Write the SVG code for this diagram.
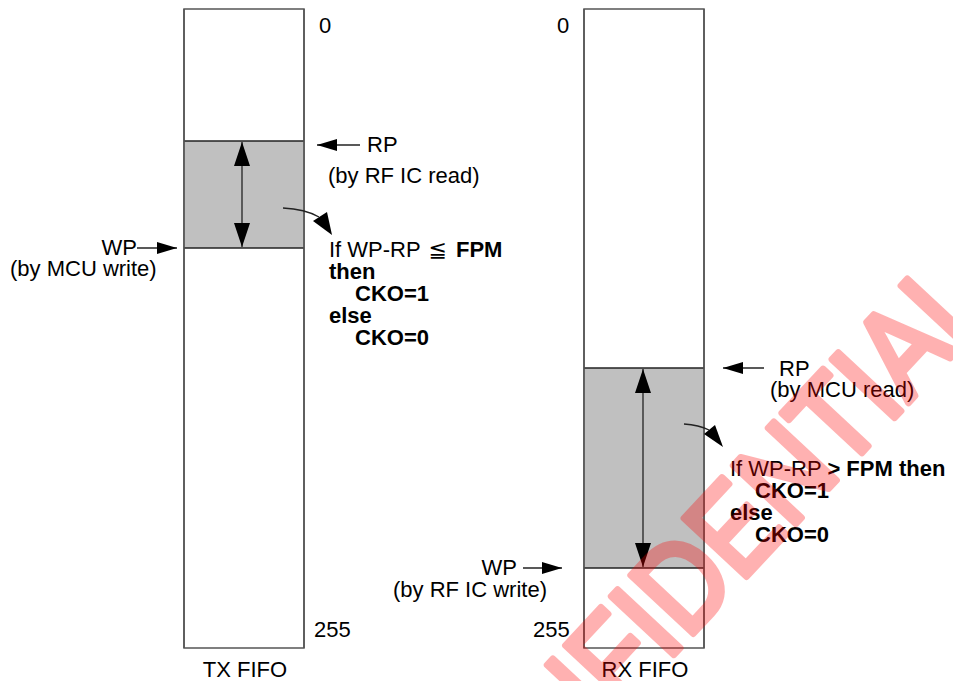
<svg xmlns="http://www.w3.org/2000/svg" width="953" height="681" viewBox="0 0 953 681">
<style>
.box{fill:#fff;stroke:#555;stroke-width:1.5}
.fill{fill:#c0c0c0;stroke:none}
.edge{stroke:#222;stroke-width:1.3;fill:none}
.side{stroke:#555;stroke-width:1.5;fill:none}
.ln{stroke:#222;stroke-width:1.3;fill:none}
.head{fill:#000;stroke:none}
.t{font-family:"Liberation Sans",Arial,"DejaVu Sans",sans-serif;font-size:22px;fill:#000}
.b{font-weight:bold}
.wm{font-family:"Liberation Sans",Arial,sans-serif;font-size:108px;fill:#f00;stroke:#f00;stroke-width:6;stroke-linejoin:round;stroke-linecap:round}
</style>
<defs>
<marker id="sm" viewBox="0 0 20 12" refX="20" refY="6" markerWidth="20" markerHeight="12" markerUnits="userSpaceOnUse" orient="auto">
<path d="M0,0 L20,6 L0,12 z" fill="#000"/>
</marker>
<marker id="big" viewBox="0 0 24 16" refX="24" refY="8" markerWidth="24" markerHeight="16" markerUnits="userSpaceOnUse" orient="auto-start-reverse">
<path d="M0,0 L24,8 L0,16 z" fill="#000"/>
</marker>
</defs>

<g id="tx-fifo">
<rect class="box" x="184" y="9" width="120" height="639"/>
<rect class="fill" x="184.8" y="141" width="118.4" height="107"/>
<line class="edge" x1="184" y1="141" x2="304" y2="141"/>
<line class="edge" x1="184" y1="248" x2="304" y2="248"/>
<line class="side" x1="184" y1="9" x2="184" y2="648"/>
<line class="side" x1="304" y1="9" x2="304" y2="648"/>
<text class="t" x="319" y="33">0</text>
<text class="t" x="314" y="637">255</text>
<text class="t" x="245" y="677" text-anchor="middle">TX FIFO</text>
</g>

<g id="rx-fifo">
<rect class="box" x="584" y="9" width="120" height="639"/>
<rect class="fill" x="584.8" y="368" width="118.4" height="200"/>
<line class="edge" x1="584" y1="368" x2="704" y2="368"/>
<line class="edge" x1="584" y1="568" x2="704" y2="568"/>
<line class="side" x1="584" y1="9" x2="584" y2="648"/>
<line class="side" x1="704" y1="9" x2="704" y2="648"/>
<text class="t" x="557" y="33">0</text>
<text class="t" x="533" y="637">255</text>
<text class="t" x="645" y="677" text-anchor="middle">RX FIFO</text>
</g>

<g id="tx-rp">
<text class="t" x="367" y="152">RP</text>
<text class="t" x="328" y="183">(by RF IC read)</text>
</g>
<g id="tx-wp">
<text class="t" x="137" y="255" text-anchor="end">WP</text>
<text class="t" x="10" y="276">(by MCU write)</text>
</g>
<g id="tx-cond">
<text class="t" x="329" y="257">If WP-RP <tspan dx="2" font-family="DejaVu Sans" font-size="22">≦</tspan> <tspan dx="3" class="b">FPM</tspan></text>
<text class="t b" x="329" y="279">then</text>
<text class="t b" x="355" y="301">CKO=1</text>
<text class="t b" x="329" y="323">else</text>
<text class="t b" x="355" y="345">CKO=0</text>
</g>

<g id="rx-rp">
<text class="t" x="779" y="376">RP</text>
<text class="t" x="770" y="397">(by MCU read)</text>
</g>
<g id="rx-wp">
<text class="t" x="517" y="575" text-anchor="end">WP</text>
<text class="t" x="393" y="597">(by RF IC write)</text>
</g>
<g id="rx-cond">
<text class="t" x="730" y="476">If WP-RP <tspan class="b">&gt; FPM then</tspan></text>
<text class="t b" x="755" y="498">CKO=1</text>
<text class="t b" x="730" y="520">else</text>
<text class="t b" x="755" y="542">CKO=0</text>
</g>

<g id="connectors">
<line class="ln" x1="360" y1="145" x2="317" y2="145" marker-end="url(#sm)"/>
<line class="ln" x1="137" y1="248" x2="177" y2="248" marker-end="url(#sm)"/>
<line class="ln" x1="242" y1="142" x2="242" y2="247" marker-start="url(#big)" marker-end="url(#big)"/>
<path class="ln" d="M283,208 Q305,209 319,217"/>
<polygon class="head" points="313,221 327,212 332,235"/>
<line class="ln" x1="764" y1="368" x2="723" y2="368" marker-end="url(#sm)"/>
<line class="ln" x1="523" y1="568" x2="562" y2="568" marker-end="url(#sm)"/>
<line class="ln" x1="643" y1="369" x2="643" y2="567" marker-start="url(#big)" marker-end="url(#big)"/>
<path class="ln" d="M684,424 Q699,425 709,430"/>
<polygon class="head" points="704,434 715,425 723,447"/>
</g>

<g id="watermark" opacity="0.3">
<text class="wm" transform="translate(458 886) rotate(-47) scale(1 1.15)" x="0" y="0">CONFIDENTIAL</text>
</g>
</svg>
